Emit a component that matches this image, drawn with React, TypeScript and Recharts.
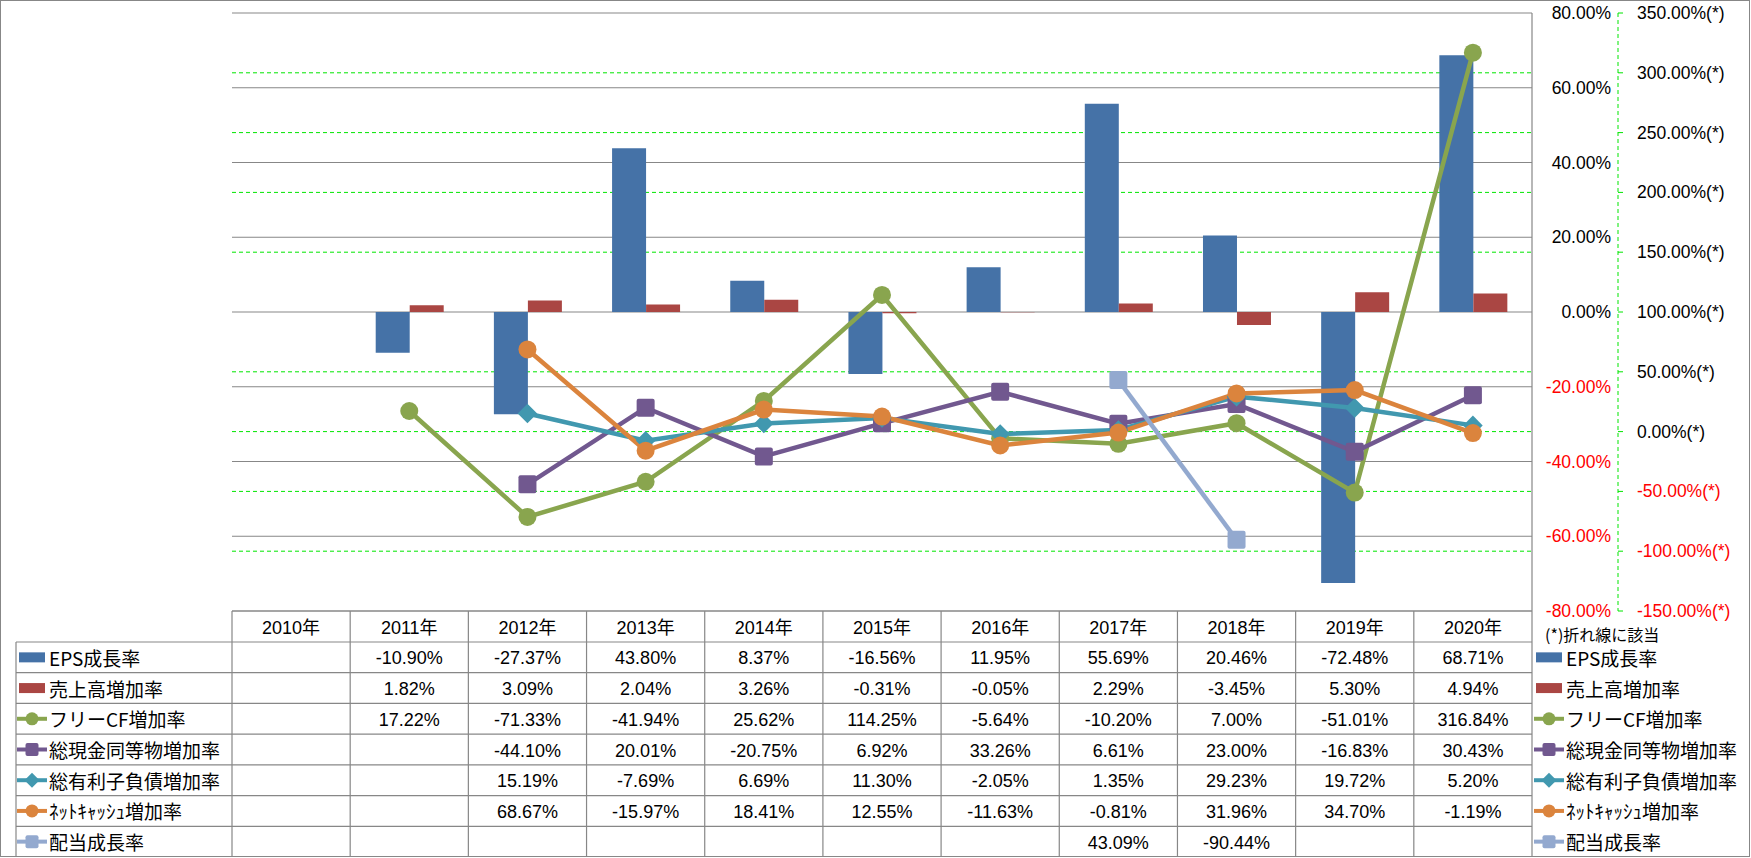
import React from "react";
import { ComposedChart, Bar, Line, XAxis, YAxis, CartesianGrid } from "recharts";

// years and growth rates (%), null = no value
const years = ["2010年", "2011年", "2012年", "2013年", "2014年", "2015年", "2016年", "2017年", "2018年", "2019年", "2020年"];
const epsGrowth = [null, -10.9, -27.37, 43.8, 8.37, -16.56, 11.95, 55.69, 20.46, -72.48, 68.71];
const salesGrowth = [null, 1.82, 3.09, 2.04, 3.26, -0.31, -0.05, 2.29, -3.45, 5.3, 4.94];
const freeCfGrowth = [null, 17.22, -71.33, -41.94, 25.62, 114.25, -5.64, -10.2, 7.0, -51.01, 316.84];
const cashGrowth = [null, null, -44.1, 20.01, -20.75, 6.92, 33.26, 6.61, 23.0, -16.83, 30.43];
const debtGrowth = [null, null, 15.19, -7.69, 6.69, 11.3, -2.05, 1.35, 29.23, 19.72, 5.2];
const netCashGrowth = [null, null, 68.67, -15.97, 18.41, 12.55, -11.63, -0.81, 31.96, 34.7, -1.19];
const dividendGrowth = [null, null, null, null, null, null, null, 43.09, -90.44, null, null];

const seriesNames = ["EPS成長率", "売上高増加率", "フリーCF増加率", "総現金同等物増加率", "総有利子負債増加率", "ﾈｯﾄｷｬｯｼｭ増加率", "配当成長率"];
const primaryTicks = [-80, -60, -40, -20, 0, 20, 40, 60, 80];
const secondaryTicks = [-150, -100, -50, 0, 50, 100, 150, 200, 250, 300, 350];
const footnote = "(*)折れ線に該当";

const seriesValues = [epsGrowth, salesGrowth, freeCfGrowth, cashGrowth, debtGrowth, netCashGrowth, dividendGrowth];
const seriesKeys = ["eps", "sales", "fcf", "cash", "debt", "net", "div"];
const seriesColors = ["#4572A7", "#AA4643", "#89A54E", "#71588F", "#4198AF", "#DB843D", "#93A9CF"];
const seriesShapes = ["bar", "bar", "circle", "square", "diamond", "circle", "square"];

const chartData = years.map((year, i) => {
  const row: Record<string, any> = { year };
  seriesKeys.forEach((k, s) => (row[k] = seriesValues[s][i]));
  return row;
});

// layout
const W = 1751;
const H = 858;
const PLOT_LEFT = 232;
const PLOT_RIGHT = 1532;
const PLOT_TOP = 13;
const PLOT_BOTTOM = 611;
const BAND = (PLOT_RIGHT - PLOT_LEFT) / years.length;
const HEADER_H = 31;
const ROW_H = (857 - (PLOT_BOTTOM + HEADER_H)) / seriesNames.length;
const LINE_GRAY = "#878787";
const GREEN = "#00E600";
const NUM_FONT = '"Liberation Sans", Arial, "Noto Sans CJK JP", sans-serif';
const JP_FONT = '"Noto Sans CJK JP", "Liberation Sans", sans-serif';

const fmt = (v: number | null) => (v == null ? "" : `${v.toFixed(2)}%`);

function Marker({ shape, cx, cy, size, color }: any) {
  const h = size / 2;
  if (shape === "circle") return <circle cx={cx} cy={cy} r={h} fill={color} />;
  if (shape === "square")
    return <rect x={cx - h} y={cy - h} width={size} height={size} rx={2} fill={color} />;
  if (shape === "diamond") {
    const d = h * 1.15;
    return <polygon points={`${cx},${cy - d} ${cx + d},${cy} ${cx},${cy + d} ${cx - d},${cy}`} fill={color} />;
  }
  return null;
}

function LegendKey({ s, x, y }: { s: number; x: number; y: number }) {
  if (seriesShapes[s] === "bar")
    return <rect x={x + 2} y={y - 5} width={26} height={10} fill={seriesColors[s]} />;
  return (
    <g>
      <line x1={x} y1={y} x2={x + 30} y2={y} stroke={seriesColors[s]} strokeWidth={4} />
      <Marker shape={seriesShapes[s]} cx={x + 15} cy={y} size={13} color={seriesColors[s]} />
    </g>
  );
}

const PrimaryTick = ({ y, payload }: any) => (
  <text x={1611} y={y} textAnchor="end" dominantBaseline="central" fontSize={17.5} fontFamily={NUM_FONT}
    fill={payload.value < 0 ? "#FF0000" : "#000"}>
    {`${payload.value.toFixed(2)}%`}
  </text>
);

const SecondaryTick = ({ y, payload }: any) => (
  <text x={1637} y={y} textAnchor="start" dominantBaseline="central" fontSize={17.5} fontFamily={NUM_FONT}
    fill={payload.value < 0 ? "#FF0000" : "#000"}>
    {`${payload.value.toFixed(2)}%(*)`}
  </text>
);

function DataTable() {
  const rowsTop = PLOT_BOTTOM + HEADER_H;
  return (
    <svg width={W} height={H} style={{ position: "absolute", left: 0, top: 0 }}>
      <rect x={0.5} y={0.5} width={1749} height={856} fill="#fff" stroke={LINE_GRAY} />
      <line x1={PLOT_RIGHT} y1={PLOT_TOP} x2={PLOT_RIGHT} y2={857} stroke={LINE_GRAY} strokeWidth={1.2} />
      <line x1={PLOT_LEFT} y1={PLOT_BOTTOM} x2={PLOT_RIGHT} y2={PLOT_BOTTOM} stroke={LINE_GRAY} strokeWidth={1.2} />
      {seriesNames.map((_, r) => (
        <line key={`h${r}`} x1={16} x2={PLOT_RIGHT} y1={rowsTop + r * ROW_H} y2={rowsTop + r * ROW_H}
          stroke={LINE_GRAY} strokeWidth={1.2} />
      ))}
      <line x1={16} x2={16} y1={rowsTop} y2={857} stroke={LINE_GRAY} strokeWidth={1.2} />
      {years.map((_, c) => (
        <line key={`v${c}`} x1={PLOT_LEFT + c * BAND} x2={PLOT_LEFT + c * BAND} y1={PLOT_BOTTOM} y2={857}
          stroke={LINE_GRAY} strokeWidth={1.2} />
      ))}
      {years.map((yr, c) => (
        <text key={`y${c}`} x={PLOT_LEFT + (c + 0.5) * BAND} y={PLOT_BOTTOM + HEADER_H / 2 + 1}
          textAnchor="middle" dominantBaseline="central" fontSize={18} fontFamily={NUM_FONT}>{yr}</text>
      ))}
      {seriesNames.map((name, r) => {
        const cy = rowsTop + (r + 0.5) * ROW_H;
        return (
          <g key={`r${r}`}>
            <LegendKey s={r} x={17} y={cy} />
            <text x={49} y={cy} dominantBaseline="central" fontSize={19} fontFamily={JP_FONT}>{name}</text>
            {seriesValues[r].map((v, c) => (
              <text key={c} x={PLOT_LEFT + (c + 0.5) * BAND} y={cy + 1} textAnchor="middle"
                dominantBaseline="central" fontSize={18} fontFamily={NUM_FONT}>{fmt(v)}</text>
            ))}
            <LegendKey s={r} x={1534} y={cy} />
            <text x={1566} y={cy} dominantBaseline="central" fontSize={19} fontFamily={JP_FONT}>{name}</text>
          </g>
        );
      })}
      <text x={1545} y={634} dominantBaseline="central" fontSize={16} fontFamily={JP_FONT}>{footnote}</text>
    </svg>
  );
}

export default function App() {
  return (
    <div style={{ position: "absolute", left: 0, top: 0, width: W, height: H, background: "#fff" }}>
      <DataTable />
      <div style={{ position: "absolute", left: 0, top: 0 }}>
        <ComposedChart width={W} height={H} data={chartData}
          margin={{ top: PLOT_TOP, left: PLOT_LEFT, right: 0, bottom: H - PLOT_BOTTOM }}
          barCategoryGap="21.6%" barGap={0}>
          <XAxis dataKey="year" hide />
          <YAxis yAxisId="left" orientation="right" width={86} domain={[-80, 80]} ticks={primaryTicks}
            axisLine={false} tickLine={false} tick={<PrimaryTick />} interval={0} />
          <YAxis yAxisId="right" orientation="right" width={W - PLOT_RIGHT - 86} domain={[-150, 350]}
            ticks={secondaryTicks} axisLine={{ stroke: GREEN, strokeDasharray: "4 3" }}
            tickLine={{ stroke: GREEN }} tickSize={5} tick={<SecondaryTick />} interval={0} />
          <CartesianGrid yAxisId="left" vertical={false} stroke={LINE_GRAY} strokeWidth={1.2} />
          <CartesianGrid yAxisId="right" vertical={false} stroke={GREEN} strokeDasharray="4 3"
            horizontalValues={[-100, -50, 0, 50, 150, 200, 250, 300]} />
          <Bar yAxisId="left" dataKey="eps" name={seriesNames[0]} fill={seriesColors[0]} isAnimationActive={false} />
          <Bar yAxisId="left" dataKey="sales" name={seriesNames[1]} fill={seriesColors[1]} isAnimationActive={false} />
          {seriesKeys.slice(2).map((k, j) => {
            const s = j + 2;
            return (
              <Line key={k} yAxisId="right" type="linear" dataKey={k} name={seriesNames[s]}
                stroke={seriesColors[s]} strokeWidth={4.5} isAnimationActive={false} activeDot={false}
                dot={(p: any) =>
                  p.value == null || p.cy == null ? (
                    <g key={`${k}${p.index}`} />
                  ) : (
                    <Marker key={`${k}${p.index}`} shape={seriesShapes[s]} cx={p.cx} cy={p.cy}
                      size={s === 4 ? 17 : 18} color={seriesColors[s]} />
                  )
                } />
            );
          })}
        </ComposedChart>
      </div>
    </div>
  );
}
